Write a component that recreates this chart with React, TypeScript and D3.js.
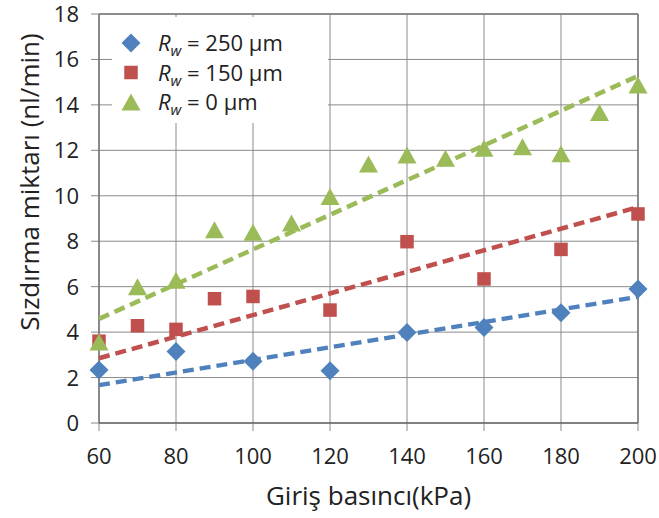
import React from "react";
import * as d3 from "d3";

// Rw = 250 um
const pressure250 = [60, 80, 100, 120, 140, 160, 180, 200];
const leak250 = [2.33, 3.15, 2.72, 2.3, 3.98, 4.2, 4.85, 5.9];
// Rw = 150 um
const pressure150 = [60, 70, 80, 90, 100, 120, 140, 160, 180, 200];
const leak150 = [3.6, 4.28, 4.12, 5.47, 5.57, 4.97, 7.98, 6.34, 7.64, 9.2];
// Rw = 0 um
const pressure0 = [60, 70, 80, 90, 100, 110, 120, 130, 140, 150, 160, 170, 180, 190, 200];
const leak0 = [3.56, 6.0, 6.28, 8.5, 8.4, 8.8, 9.97, 11.4, 11.8, 11.65, 12.09, 12.16, 11.85, 13.67, 14.88];

const seriesLabels = ["250", "150", "0"];
const seriesColors = ["#4F81BD", "#C0504D", "#9BBB59"];
const seriesShapes = ["diamond", "square", "triangle"];

const xTicks = [60, 80, 100, 120, 140, 160, 180, 200];
const yTicks = [0, 2, 4, 6, 8, 10, 12, 14, 16, 18];

const xTitle = "Giriş basıncı(kPa)";
const yTitle = "Sızdırma miktarı (nl/min)";

const W = 659;
const H = 518;
const margin = { top: 14, right: 21, bottom: 95, left: 99 };
const FONT = "'Open Sans', 'Noto Sans', sans-serif";

function Marker(props: { shape: string; x: number; y: number; color: string }) {
  const { shape, x, y, color } = props;
  if (shape === "diamond") {
    const r = 9.5;
    return <path d={`M${x},${y - r}L${x + r},${y}L${x},${y + r}L${x - r},${y}Z`} fill={color} />;
  }
  if (shape === "square") {
    const s = 13.5;
    return <rect x={x - s / 2} y={y - s / 2} width={s} height={s} fill={color} />;
  }
  const hw = 9.5;
  const hh = 8.5;
  return <path d={`M${x},${y - hh}L${x + hw},${y + hh}L${x - hw},${y + hh}Z`} fill={color} />;
}

export default function App() {
  const series = [
    { xs: pressure250, ys: leak250 },
    { xs: pressure150, ys: leak150 },
    { xs: pressure0, ys: leak0 },
  ];

  const x = d3.scaleLinear().domain([60, 200]).range([margin.left, W - margin.right]);
  const y = d3.scaleLinear().domain([0, 18]).range([H - margin.bottom, margin.top]);

  // linear trend forced through the origin
  const slopes = series.map((s) => {
    const sxy = d3.sum(s.xs, (v, i) => v * s.ys[i]);
    const sxx = d3.sum(s.xs, (v) => v * v);
    return sxy / sxx;
  });

  const line = d3
    .line<number[]>()
    .x((d) => x(d[0]))
    .y((d) => y(d[1]));

  const x0 = margin.left;
  const x1 = W - margin.right;
  const y0 = H - margin.bottom;
  const y1 = margin.top;
  const grid = "#8a8a8a";

  return (
    <svg
      width={W}
      height={H}
      style={{ position: "absolute", left: 0, top: 0, background: "#fff" }}
      fontFamily={FONT}
    >
      <rect width={W} height={H} fill="#fff" />
      {yTicks.map((t) => (
        <line key={"gy" + t} x1={x0 - 8} x2={x1} y1={y(t)} y2={y(t)} stroke={grid} strokeWidth={1} />
      ))}
      {xTicks.map((t) => (
        <line key={"gx" + t} x1={x(t)} x2={x(t)} y1={y1} y2={y0 + 8} stroke={grid} strokeWidth={1} />
      ))}
      <line x1={x0} x2={x0} y1={y1} y2={y0} stroke="#6a6a6a" strokeWidth={1.3} />
      <line x1={x0} x2={x1} y1={y0} y2={y0} stroke="#6a6a6a" strokeWidth={1.3} />
      <line x1={x1} x2={x1} y1={y1} y2={y0} stroke="#7a7a7a" strokeWidth={1.5} />
      <line x1={x0} x2={x1} y1={y1} y2={y1} stroke="#7a7a7a" strokeWidth={1.5} />

      {/* legend */}
      <rect x={112} y={17} width={216} height={106} fill="#fff" />
      {seriesLabels.map((lab, i) => {
        const ly = 43 + i * 29.5;
        return (
          <g key={"lg" + i}>
            <Marker shape={seriesShapes[i]} x={131} y={ly} color={seriesColors[i]} />
            <text x={158} y={ly + 8} fontSize={22} fill="#222">
              <tspan fontStyle="italic">R</tspan>
              <tspan fontStyle="italic" fontSize={15} dy={5}>w</tspan>
              <tspan dy={-5}>{` = ${lab} \u00B5m`}</tspan>
            </text>
          </g>
        );
      })}

      {/* trend lines */}
      {slopes.map((k, i) => (
        <path
          key={"tr" + i}
          d={line([
            [60, 60 * k],
            [200, 200 * k],
          ]) || ""}
          fill="none"
          stroke={seriesColors[i]}
          strokeWidth={4.5}
          strokeDasharray="11 6"
        />
      ))}

      {/* points */}
      {series.map((s, i) =>
        s.xs.map((v, j) => (
          <Marker key={`p${i}-${j}`} shape={seriesShapes[i]} x={x(v)} y={y(s.ys[j])} color={seriesColors[i]} />
        ))
      )}

      {/* tick labels */}
      {yTicks.map((t) => (
        <text key={"ly" + t} x={79} y={y(t) + 8} textAnchor="end" fontSize={22} fill="#222">
          {t}
        </text>
      ))}
      {xTicks.map((t) => (
        <text key={"lx" + t} x={x(t)} y={464} textAnchor="middle" fontSize={22} fill="#222">
          {t}
        </text>
      ))}

      <text x={(x0 + x1) / 2} y={505} textAnchor="middle" fontSize={26} fill="#222">
        {xTitle}
      </text>
      <text
        transform={`translate(39, ${182}) rotate(-90)`}
        textAnchor="middle"
        fontSize={26}
        fill="#222"
      >
        {yTitle}
      </text>
    </svg>
  );
}
